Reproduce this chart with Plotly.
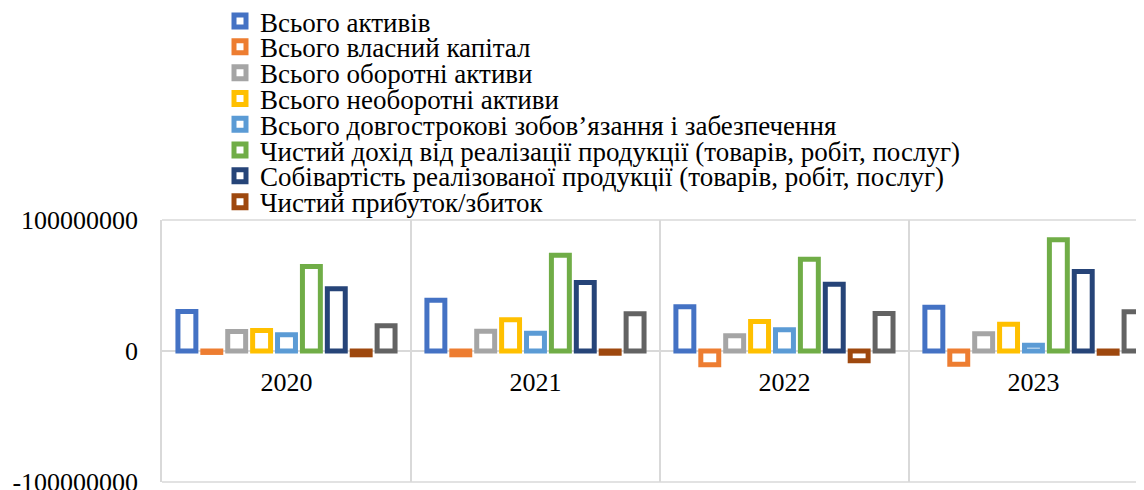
import plotly.graph_objects as go

years = ["2020", "2021", "2022", "2023"]

series_names = [
    "Всього активів",
    "Всього власний капітал",
    "Всього оборотні активи",
    "Всього необоротні активи",
    "Всього довгострокові зобов’язання і забезпечення",
    "Чистий дохід від реалізації продукції (товарів, робіт, послуг)",
    "Собівартість реалізованої продукції (товарів, робіт, послуг)",
    "Чистий прибуток/збиток",
    "Ряд 9",
]

total_assets = [30200000, 38800000, 33700000, 33400000]
equity = [-1100000, -2900000, -10500000, -10100000]
current_assets = [14900000, 15100000, 11600000, 13100000]
noncurrent_assets = [15600000, 23800000, 22500000, 20500000]
longterm_liab = [12400000, 13600000, 16200000, 4400000]
net_revenue = [64500000, 73100000, 70100000, 84900000]
cost_of_sales = [47500000, 52300000, 51000000, 60700000]
net_profit = [-2900000, -1700000, -7500000, -1700000]
series9 = [19200000, 28400000, 28600000, 29900000]

y_tickvals = [-100000000, 0, 100000000]
y_ticktext = ["-100000000", "0", "100000000"]

colors = ["#4472C4", "#ED7D31", "#A5A5A5", "#FFC000", "#5B9BD5",
          "#70AD47", "#264478", "#9E480E", "#636363"]

all_values = [total_assets, equity, current_assets, noncurrent_assets,
              longterm_liab, net_revenue, cost_of_sales, net_profit, series9]

# the page body adds an 8px offset; figure sized to fit the 1144x490 window
OFF = 8
W, H = 1144 - OFF, 490 - OFF
ML, MR, MT, MB = 162 - OFF, 0, 220 - OFF, 8
PW = W - ML - MR
PH = H - MT - MB

FONT = "Liberation Serif, Times New Roman, serif"

fig = go.Figure()
for i, (name, vals, col) in enumerate(zip(series_names, all_values, colors)):
    kw = {}
    if i < 8:
        kw["legend"] = "legend" if i == 0 else f"legend{i+1}"
    fig.add_trace(go.Bar(
        x=years, y=vals, name=name,
        marker=dict(color="white", line=dict(color=col, width=5)),
        showlegend=(i < 8),
        **kw,
    ))

# invisible helper trace on the secondary x-axis for category separators
fig.add_trace(go.Scatter(x=[0], y=[0], xaxis="x2", mode="markers",
                         marker=dict(opacity=0), showlegend=False,
                         hoverinfo="skip"))

layout = dict(
    width=W, height=H,
    margin=dict(l=ML, r=MR, t=MT, b=MB, autoexpand=False),
    paper_bgcolor="white", plot_bgcolor="white",
    barmode="group", bargap=0.1, bargroupgap=0.28,
    font=dict(family=FONT, size=26, color="black"),
    xaxis=dict(type="category", range=[-0.5, 3.444], anchor="free",
               position=0.5, showgrid=False, showline=False, zeroline=False,
               ticks="outside", ticklen=8, tickcolor="rgba(0,0,0,0)",
               automargin=False,
               tickfont=dict(family=FONT, size=26, color="black")),
    xaxis2=dict(overlaying="x", range=[-0.5, 3.444], tick0=-0.5, dtick=1,
                showgrid=True, gridcolor="#D9D9D9", gridwidth=1.5,
                showticklabels=False, zeroline=False, showline=False,
                anchor="y", automargin=False),
    yaxis=dict(range=[-100000000, 100000000], tickvals=y_tickvals,
               ticktext=y_ticktext, showgrid=True, gridcolor="#D9D9D9",
               gridwidth=1.5, zeroline=True, zerolinecolor="#D9D9D9",
               zerolinewidth=2, showline=True, linecolor="#D9D9D9",
               linewidth=1.5, mirror=False, ticks="outside", ticklen=17,
               tickcolor="rgba(0,0,0,0)", automargin=False,
               ticklabeloverflow="allow",
               tickfont=dict(family=FONT, size=26, color="black")),
    shapes=[dict(type="line", xref="paper", yref="paper", x0=0, x1=1,
                 y0=1, y1=1, line=dict(color="#D9D9D9", width=1.5)),
            dict(type="line", xref="paper", yref="paper", x0=0, x1=1,
                 y0=0, y1=0, line=dict(color="#D9D9D9", width=1.5))],
)

# legend rows, in page pixel coordinates
leg_left_page = 220
plot_left_page = OFF + ML
plot_bottom_page = OFF + MT + PH
for i in range(8):
    key = "legend" if i == 0 else f"legend{i+1}"
    cy = 21.5 + 25.8 * i
    layout[key] = dict(
        x=(leg_left_page - plot_left_page) / PW, xanchor="left",
        y=(plot_bottom_page - cy) / PH, yanchor="middle",
        bgcolor="rgba(0,0,0,0)", borderwidth=0,
        font=dict(family=FONT, size=27, color="black"),
    )

fig.update_layout(**layout)
fig.write_html("out.html")
